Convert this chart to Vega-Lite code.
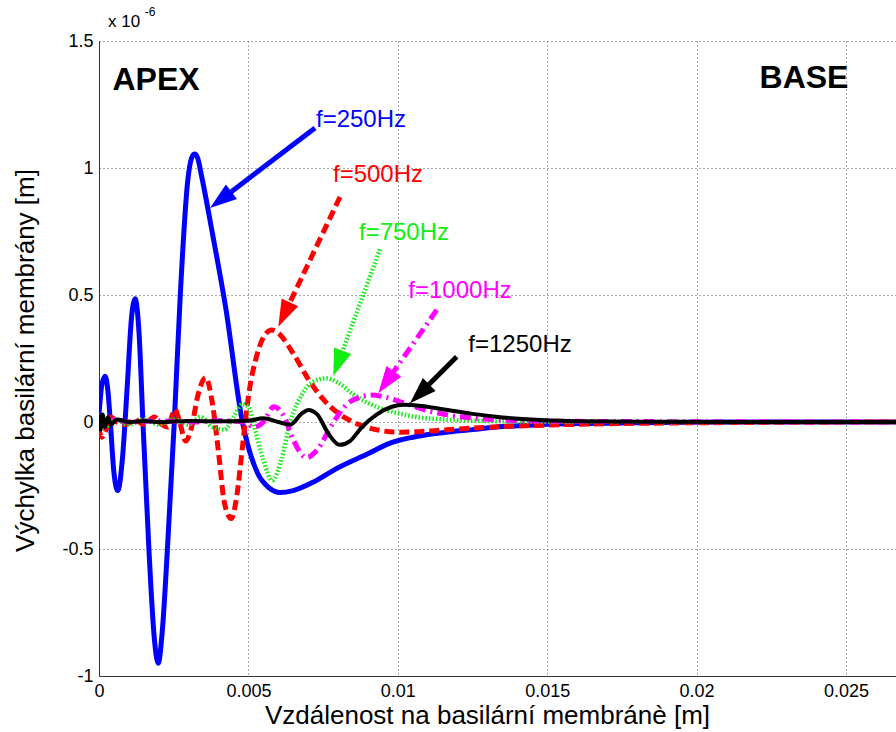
{
  "$schema": "https://vega.github.io/schema/vega-lite/v6.json",
  "width": 797,
  "height": 635,
  "autosize": {"type": "none"},
  "padding": {"left": 99, "top": 41, "right": 0, "bottom": 56},
  "background": "white",
  "config": {"view": {"stroke": null}, "font": "Liberation Sans"},
  "datasets": {
    "curves": [
      {"s":"250","x":0,"y":0.03},{"s":"250","x":0.0001,"y":0.15},{"s":"250","x":0.00021,"y":0.18},{"s":"250","x":0.0003,"y":0.12},{"s":"250","x":0.00038,"y":0.0},{"s":"250","x":0.0005,"y":-0.2},{"s":"250","x":0.00063,"y":-0.27},{"s":"250","x":0.00078,"y":-0.15},{"s":"250","x":0.00095,"y":0.15},{"s":"250","x":0.00108,"y":0.4},{"s":"250","x":0.00121,"y":0.485},{"s":"250","x":0.00134,"y":0.35},{"s":"250","x":0.00147,"y":0.0},{"s":"250","x":0.00167,"y":-0.5},{"s":"250","x":0.00185,"y":-0.85},{"s":"250","x":0.00198,"y":-0.95},{"s":"250","x":0.00212,"y":-0.82},{"s":"250","x":0.00229,"y":-0.5},{"s":"250","x":0.00252,"y":0.0},{"s":"250","x":0.00272,"y":0.5},{"s":"250","x":0.00297,"y":0.95},{"s":"250","x":0.0031,"y":1.04},{"s":"250","x":0.0032,"y":1.055},{"s":"250","x":0.0033,"y":1.04},{"s":"250","x":0.00343,"y":0.97},{"s":"250","x":0.0038,"y":0.74},{"s":"250","x":0.00424,"y":0.45},{"s":"250","x":0.0048,"y":0.0},{"s":"250","x":0.0053,"y":-0.2},{"s":"250","x":0.0057,"y":-0.26},{"s":"250","x":0.00606,"y":-0.278},{"s":"250","x":0.0065,"y":-0.27},{"s":"250","x":0.0072,"y":-0.235},{"s":"250","x":0.008,"y":-0.18},{"s":"250","x":0.009,"y":-0.125},{"s":"250","x":0.0097,"y":-0.085},{"s":"250","x":0.0105,"y":-0.06},{"s":"250","x":0.0115,"y":-0.042},{"s":"250","x":0.0125,"y":-0.03},{"s":"250","x":0.0135,"y":-0.018},{"s":"250","x":0.0148,"y":-0.01},{"s":"250","x":0.016,"y":-0.006},{"s":"250","x":0.018,"y":-0.003},{"s":"250","x":0.02,"y":-0.001},{"s":"250","x":0.0235,"y":0},{"s":"250","x":0.0267,"y":0},
      {"s":"500","x":0,"y":-0.03},{"s":"500","x":0.0001,"y":-0.06},{"s":"500","x":0.0002,"y":-0.04},{"s":"500","x":0.0004,"y":0.02},{"s":"500","x":0.0006,"y":0.0},{"s":"500","x":0.0009,"y":-0.01},{"s":"500","x":0.0012,"y":0.01},{"s":"500","x":0.0015,"y":-0.01},{"s":"500","x":0.00185,"y":0.02},{"s":"500","x":0.0021,"y":-0.01},{"s":"500","x":0.0023,"y":-0.02},{"s":"500","x":0.00254,"y":0.05},{"s":"500","x":0.0027,"y":0.0},{"s":"500","x":0.0029,"y":-0.075},{"s":"500","x":0.0031,"y":-0.02},{"s":"500","x":0.0033,"y":0.1},{"s":"500","x":0.00357,"y":0.175},{"s":"500","x":0.0038,"y":0.07},{"s":"500","x":0.004,"y":-0.12},{"s":"500","x":0.0042,"y":-0.32},{"s":"500","x":0.00443,"y":-0.38},{"s":"500","x":0.0046,"y":-0.3},{"s":"500","x":0.0048,"y":-0.1},{"s":"500","x":0.005,"y":0.1},{"s":"500","x":0.0053,"y":0.27},{"s":"500","x":0.0056,"y":0.35},{"s":"500","x":0.00578,"y":0.362},{"s":"500","x":0.006,"y":0.35},{"s":"500","x":0.0065,"y":0.27},{"s":"500","x":0.007,"y":0.17},{"s":"500","x":0.0075,"y":0.09},{"s":"500","x":0.008,"y":0.035},{"s":"500","x":0.0085,"y":0.0},{"s":"500","x":0.009,"y":-0.022},{"s":"500","x":0.0095,"y":-0.035},{"s":"500","x":0.01,"y":-0.04},{"s":"500","x":0.0107,"y":-0.038},{"s":"500","x":0.0115,"y":-0.032},{"s":"500","x":0.0125,"y":-0.024},{"s":"500","x":0.0135,"y":-0.018},{"s":"500","x":0.015,"y":-0.012},{"s":"500","x":0.017,"y":-0.007},{"s":"500","x":0.02,"y":-0.003},{"s":"500","x":0.0235,"y":-0.001},{"s":"500","x":0.0267,"y":0},
      {"s":"750","x":0,"y":0.02},{"s":"750","x":0.0002,"y":-0.02},{"s":"750","x":0.0005,"y":0.01},{"s":"750","x":0.001,"y":-0.01},{"s":"750","x":0.0015,"y":0.01},{"s":"750","x":0.002,"y":-0.01},{"s":"750","x":0.0025,"y":0.01},{"s":"750","x":0.003,"y":-0.01},{"s":"750","x":0.0034,"y":0.02},{"s":"750","x":0.0038,"y":-0.02},{"s":"750","x":0.0042,"y":-0.03},{"s":"750","x":0.0045,"y":0.02},{"s":"750","x":0.0048,"y":0.07},{"s":"750","x":0.005,"y":0.06},{"s":"750","x":0.0052,"y":-0.02},{"s":"750","x":0.0055,"y":-0.15},{"s":"750","x":0.0058,"y":-0.23},{"s":"750","x":0.0061,"y":-0.15},{"s":"750","x":0.0064,"y":0.0},{"s":"750","x":0.0068,"y":0.11},{"s":"750","x":0.0072,"y":0.16},{"s":"750","x":0.0076,"y":0.172},{"s":"750","x":0.008,"y":0.155},{"s":"750","x":0.0085,"y":0.11},{"s":"750","x":0.009,"y":0.075},{"s":"750","x":0.0095,"y":0.05},{"s":"750","x":0.01,"y":0.035},{"s":"750","x":0.0106,"y":0.02},{"s":"750","x":0.0115,"y":0.01},{"s":"750","x":0.013,"y":0.004},{"s":"750","x":0.015,"y":0.001},{"s":"750","x":0.0267,"y":0},
      {"s":"1000","x":0,"y":0.02},{"s":"1000","x":0.0002,"y":0.0},{"s":"1000","x":0.0005,"y":0.01},{"s":"1000","x":0.001,"y":0.0},{"s":"1000","x":0.002,"y":0.005},{"s":"1000","x":0.003,"y":0.0},{"s":"1000","x":0.004,"y":0.005},{"s":"1000","x":0.0048,"y":0.0},{"s":"1000","x":0.0052,"y":-0.02},{"s":"1000","x":0.0055,"y":0.0},{"s":"1000","x":0.00585,"y":0.06},{"s":"1000","x":0.0062,"y":0.02},{"s":"1000","x":0.0065,"y":-0.07},{"s":"1000","x":0.00695,"y":-0.14},{"s":"1000","x":0.0073,"y":-0.11},{"s":"1000","x":0.0078,"y":-0.01},{"s":"1000","x":0.0083,"y":0.07},{"s":"1000","x":0.0088,"y":0.1},{"s":"1000","x":0.0091,"y":0.106},{"s":"1000","x":0.0095,"y":0.1},{"s":"1000","x":0.0102,"y":0.075},{"s":"1000","x":0.011,"y":0.045},{"s":"1000","x":0.0118,"y":0.025},{"s":"1000","x":0.0125,"y":0.015},{"s":"1000","x":0.0135,"y":0.008},{"s":"1000","x":0.015,"y":0.003},{"s":"1000","x":0.0267,"y":0},
      {"s":"1250","x":0,"y":0.03},{"s":"1250","x":0.00005,"y":-0.03},{"s":"1250","x":0.00012,"y":0.03},{"s":"1250","x":0.0002,"y":-0.02},{"s":"1250","x":0.0003,"y":0.02},{"s":"1250","x":0.0004,"y":-0.01},{"s":"1250","x":0.0006,"y":0.01},{"s":"1250","x":0.001,"y":0.0},{"s":"1250","x":0.0015,"y":0.004},{"s":"1250","x":0.002,"y":0.0},{"s":"1250","x":0.003,"y":0.004},{"s":"1250","x":0.004,"y":0.003},{"s":"1250","x":0.005,"y":0.005},{"s":"1250","x":0.0055,"y":0.015},{"s":"1250","x":0.006,"y":0.0},{"s":"1250","x":0.0064,"y":-0.01},{"s":"1250","x":0.0068,"y":0.035},{"s":"1250","x":0.007,"y":0.047},{"s":"1250","x":0.0073,"y":0.03},{"s":"1250","x":0.0077,"y":-0.05},{"s":"1250","x":0.00805,"y":-0.09},{"s":"1250","x":0.0084,"y":-0.075},{"s":"1250","x":0.0088,"y":-0.02},{"s":"1250","x":0.0093,"y":0.03},{"s":"1250","x":0.0098,"y":0.06},{"s":"1250","x":0.0102,"y":0.068},{"s":"1250","x":0.0108,"y":0.063},{"s":"1250","x":0.0115,"y":0.05},{"s":"1250","x":0.0125,"y":0.032},{"s":"1250","x":0.0135,"y":0.018},{"s":"1250","x":0.0148,"y":0.008},{"s":"1250","x":0.016,"y":0.003},{"s":"1250","x":0.018,"y":0.001},{"s":"1250","x":0.0267,"y":0}
    ],
    "arrows": [
      {"s":"250","x":0.007229,"y":1.1575,"x2":0.003981,"y2":0.8664,"tx":0.003715,"ty":0.8425},
      {"s":"500","x":0.008066,"y":0.8858,"x2":0.006145,"y2":0.4106,"tx":0.006001,"ty":0.3752},
      {"s":"750","x":0.009404,"y":0.6799,"x2":0.007958,"y2":0.2181,"tx":0.007841,"ty":0.1811},
      {"s":"1000","x":0.011302,"y":0.4409,"x2":0.009542,"y2":0.1449,"tx":0.009347,"ty":0.1130},
      {"s":"1250","x":0.011971,"y":0.2571,"x2":0.010646,"y2":0.1012,"tx":0.010408,"ty":0.0736}
    ],
    "labels": [
      {"s":"250","x":0.008768,"y":1.1614,"text":"f=250Hz"},
      {"s":"500","x":0.009337,"y":0.9449,"text":"f=500Hz"},
      {"s":"750","x":0.010208,"y":0.7165,"text":"f=750Hz"},
      {"s":"1000","x":0.012082,"y":0.4882,"text":"f=1000Hz"},
      {"s":"1250","x":0.01409,"y":0.2756,"text":"f=1250Hz"}
    ],
    "regions": [
      {"x":0.001908,"y":1.3071,"text":"APEX"},
      {"x":0.023594,"y":1.315,"text":"BASE"}
    ],
    "exponent": [
      {"x":0.0003,"y":1.555,"text":"x 10","part":"base"},
      {"x":0.00153,"y":1.598,"text":"-6","part":"sup"}
    ]
  },
  "layer": [
    {
      "data": {"name": "curves"},
      "transform": [{"filter": "datum.s == '250'"}],
      "mark": {"type": "line", "color": "#0000ff", "strokeWidth": 5, "interpolate": "monotone", "clip": true},
      "encoding": {
        "x": {"field": "x", "type": "quantitative", "scale": {"domain": [0, 0.026673], "nice": false, "zero": false},
          "axis": {"values": [0, 0.005, 0.01, 0.015, 0.02, 0.025], "labelExpr": "toString(datum.value)", "grid": true, "gridDash": [1, 3], "gridColor": "#555", "ticks": false, "domainColor": "#333", "labelFontSize": 18, "labelColor": "#000", "labelBaseline": "alphabetic", "labelPadding": 20, "labelFlush": false, "labelOverlap": false,
            "title": "Vzdálenost na basilární membránè [m]", "titleFontSize": 26, "titleFontWeight": "normal", "titleColor": "#000", "titleX": 388, "titleY": 47, "titleBaseline": "alphabetic", "titleAlign": "center"}},
        "y": {"field": "y", "type": "quantitative", "scale": {"domain": [-1, 1.5], "nice": false, "zero": false},
          "axis": {"values": [-1, -0.5, 0, 0.5, 1, 1.5], "labelExpr": "toString(datum.value)", "grid": true, "gridDash": [1, 3], "gridColor": "#555", "ticks": false, "domainColor": "#333", "labelFontSize": 18, "labelColor": "#000", "labelPadding": 6, "labelFlush": false, "labelOverlap": false,
            "title": "Výchylka basilární membrány [m]", "titleFontSize": 26, "titleFontWeight": "normal", "titleColor": "#000", "titleX": -66, "titleY": 319, "titleBaseline": "alphabetic", "titleAlign": "center", "titleAngle": 270}}
      }
    },
    {
      "data": {"name": "curves"},
      "transform": [{"filter": "datum.s == '500'"}],
      "mark": {"type": "line", "color": "#ff0000", "strokeWidth": 5, "strokeDash": [10, 5], "interpolate": "monotone", "clip": true},
      "encoding": {"x": {"field": "x", "type": "quantitative"}, "y": {"field": "y", "type": "quantitative"}}
    },
    {
      "data": {"name": "curves"},
      "transform": [{"filter": "datum.s == '750'"}],
      "mark": {"type": "line", "color": "#11ee11", "strokeWidth": 4.5, "strokeDash": [1.5, 2], "interpolate": "monotone", "clip": true},
      "encoding": {"x": {"field": "x", "type": "quantitative"}, "y": {"field": "y", "type": "quantitative"}}
    },
    {
      "data": {"name": "curves"},
      "transform": [{"filter": "datum.s == '1000'"}],
      "mark": {"type": "line", "color": "#ff00ff", "strokeWidth": 5, "strokeDash": [11, 5, 2, 5], "interpolate": "monotone", "clip": true},
      "encoding": {"x": {"field": "x", "type": "quantitative"}, "y": {"field": "y", "type": "quantitative"}}
    },
    {
      "data": {"name": "curves"},
      "transform": [{"filter": "datum.s == '1250'"}],
      "mark": {"type": "line", "color": "#000000", "strokeWidth": 4, "interpolate": "monotone", "clip": true},
      "encoding": {"x": {"field": "x", "type": "quantitative"}, "y": {"field": "y", "type": "quantitative"}}
    },
    {
      "data": {"name": "arrows"},
      "transform": [{"filter": "datum.s == '250'"}],
      "mark": {"type": "rule", "color": "#0000ff", "strokeWidth": 5},
      "encoding": {"x": {"field": "x", "type": "quantitative"}, "y": {"field": "y", "type": "quantitative"}, "x2": {"field": "x2"}, "y2": {"field": "y2"}}
    },
    {
      "data": {"name": "arrows"},
      "transform": [{"filter": "datum.s == '500'"}],
      "mark": {"type": "rule", "color": "#ff0000", "strokeWidth": 5, "strokeDash": [10, 5]},
      "encoding": {"x": {"field": "x", "type": "quantitative"}, "y": {"field": "y", "type": "quantitative"}, "x2": {"field": "x2"}, "y2": {"field": "y2"}}
    },
    {
      "data": {"name": "arrows"},
      "transform": [{"filter": "datum.s == '750'"}],
      "mark": {"type": "rule", "color": "#11ee11", "strokeWidth": 4.5, "strokeDash": [1.5, 2]},
      "encoding": {"x": {"field": "x", "type": "quantitative"}, "y": {"field": "y", "type": "quantitative"}, "x2": {"field": "x2"}, "y2": {"field": "y2"}}
    },
    {
      "data": {"name": "arrows"},
      "transform": [{"filter": "datum.s == '1000'"}],
      "mark": {"type": "rule", "color": "#ff00ff", "strokeWidth": 5, "strokeDash": [11, 5, 2, 5]},
      "encoding": {"x": {"field": "x", "type": "quantitative"}, "y": {"field": "y", "type": "quantitative"}, "x2": {"field": "x2"}, "y2": {"field": "y2"}}
    },
    {
      "data": {"name": "arrows"},
      "transform": [{"filter": "datum.s == '1250'"}],
      "mark": {"type": "rule", "color": "#000000", "strokeWidth": 5},
      "encoding": {"x": {"field": "x", "type": "quantitative"}, "y": {"field": "y", "type": "quantitative"}, "x2": {"field": "x2"}, "y2": {"field": "y2"}}
    },
    {
      "data": {"name": "arrows"},
      "transform": [{"filter": "datum.s == '250'"}],
      "mark": {"type": "point", "shape": "M0,0L-0.34,1L0.34,1Z", "size": 2900, "filled": true, "opacity": 1, "color": "#0000ff", "angle": 232.7},
      "encoding": {"x": {"field": "tx", "type": "quantitative"}, "y": {"field": "ty", "type": "quantitative"}}
    },
    {
      "data": {"name": "arrows"},
      "transform": [{"filter": "datum.s == '500'"}],
      "mark": {"type": "point", "shape": "M0,0L-0.34,1L0.34,1Z", "size": 2900, "filled": true, "opacity": 1, "color": "#ff0000", "angle": 205.5},
      "encoding": {"x": {"field": "tx", "type": "quantitative"}, "y": {"field": "ty", "type": "quantitative"}}
    },
    {
      "data": {"name": "arrows"},
      "transform": [{"filter": "datum.s == '750'"}],
      "mark": {"type": "point", "shape": "M0,0L-0.34,1L0.34,1Z", "size": 2900, "filled": true, "opacity": 1, "color": "#11ee11", "angle": 200.3},
      "encoding": {"x": {"field": "tx", "type": "quantitative"}, "y": {"field": "ty", "type": "quantitative"}}
    },
    {
      "data": {"name": "arrows"},
      "transform": [{"filter": "datum.s == '1000'"}],
      "mark": {"type": "point", "shape": "M0,0L-0.34,1L0.34,1Z", "size": 2900, "filled": true, "opacity": 1, "color": "#ff00ff", "angle": 215.4},
      "encoding": {"x": {"field": "tx", "type": "quantitative"}, "y": {"field": "ty", "type": "quantitative"}}
    },
    {
      "data": {"name": "arrows"},
      "transform": [{"filter": "datum.s == '1250'"}],
      "mark": {"type": "point", "shape": "M0,0L-0.34,1L0.34,1Z", "size": 2900, "filled": true, "opacity": 1, "color": "#000000", "angle": 225.6},
      "encoding": {"x": {"field": "tx", "type": "quantitative"}, "y": {"field": "ty", "type": "quantitative"}}
    },
    {
      "data": {"name": "labels"},
      "mark": {"type": "text", "fontSize": 24, "align": "center", "baseline": "alphabetic"},
      "encoding": {
        "x": {"field": "x", "type": "quantitative"},
        "y": {"field": "y", "type": "quantitative"},
        "text": {"field": "text"},
        "color": {"field": "s", "type": "nominal", "legend": null, "scale": {"domain": ["250", "500", "750", "1000", "1250"], "range": ["#0000ff", "#ff0000", "#11ee11", "#ff00ff", "#000000"]}}
      }
    },
    {
      "data": {"name": "regions"},
      "mark": {"type": "text", "fontSize": 32, "fontWeight": "bold", "align": "center", "baseline": "alphabetic", "color": "#000"},
      "encoding": {"x": {"field": "x", "type": "quantitative"}, "y": {"field": "y", "type": "quantitative"}, "text": {"field": "text"}}
    },
    {
      "data": {"name": "exponent"},
      "transform": [{"filter": "datum.part == 'base'"}],
      "mark": {"type": "text", "fontSize": 17, "align": "left", "baseline": "alphabetic", "color": "#000"},
      "encoding": {"x": {"field": "x", "type": "quantitative"}, "y": {"field": "y", "type": "quantitative"}, "text": {"field": "text"}}
    },
    {
      "data": {"name": "exponent"},
      "transform": [{"filter": "datum.part == 'sup'"}],
      "mark": {"type": "text", "fontSize": 12, "align": "left", "baseline": "alphabetic", "color": "#000"},
      "encoding": {"x": {"field": "x", "type": "quantitative"}, "y": {"field": "y", "type": "quantitative"}, "text": {"field": "text"}}
    }
  ]
}
